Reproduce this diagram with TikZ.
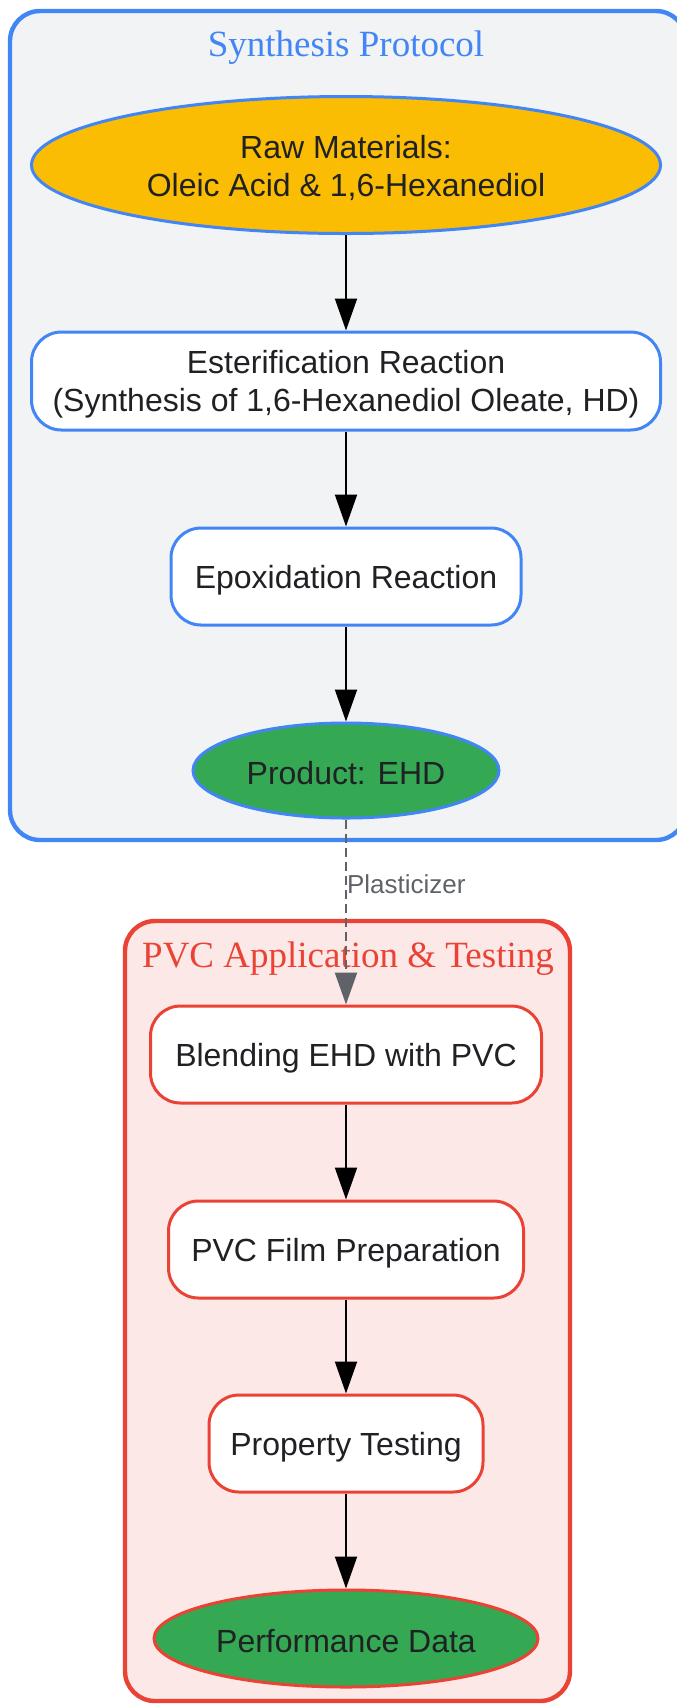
\documentclass[tikz,border=0pt]{standalone}
\usepackage{fontspec}
\setmainfont{Liberation Sans}
\newfontfamily\titlefont{Liberation Serif}
\usetikzlibrary{shapes.geometric,arrows.meta}
\definecolor{gblue}{HTML}{4285F4}
\definecolor{gred}{HTML}{EA4335}
\definecolor{ggreen}{HTML}{34A853}
\definecolor{gyellow}{HTML}{FBBC04}
\definecolor{ggrayfill}{HTML}{F1F3F4}
\definecolor{gpink}{HTML}{FCE8E6}
\definecolor{gtext}{HTML}{202124}
\definecolor{glabel}{HTML}{5F6368}
\tikzset{
  cluster/.style={line width=2.2pt, rounded corners=15pt},
  ctitle/.style={font=\titlefont\fontsize{18.5}{22}\selectfont, inner sep=0pt},
  procbox/.style={rectangle, rounded corners=15pt, fill=white, line width=1.5pt, inner sep=0pt},
  ovalnode/.style={ellipse, line width=1.5pt, inner sep=0pt},
  txt/.style={text=gtext, font=\fontsize{16}{19}\selectfont, align=center, inner sep=0pt, yshift=-1.7pt},
  flow/.style={line width=1pt, -{Triangle[length=16pt,width=11pt]}},
  dflow/.style={line width=1.1pt, draw=glabel, dash pattern=on 4.5pt off 2.5pt,
    -{Triangle[length=16pt,width=11pt]}, color=glabel},
}
\begin{document}
\begin{tikzpicture}[x=0.5pt,y=-0.5pt]
\useasboundingbox (0,0) rectangle (676,1705);
% clusters
\draw[cluster, draw=gblue, fill=ggrayfill] (10,11) rectangle (686,840);
\node[ctitle, text=gblue] (t1) at (346,47.5) {Synthesis Protocol};
\draw[cluster, draw=gred, fill=gpink] (125,921) rectangle (570,1701);
\node[ctitle, text=gred] (t2) at (348,959) {PVC Application \& Testing};
% node shapes
\node[ovalnode, draw=gblue, fill=gyellow, minimum width=314.5pt, minimum height=68.5pt] (raw) at (346,165) {};
\node[procbox, draw=gblue, minimum width=314.5pt, minimum height=49pt] (ester) at (346,381) {};
\node[procbox, draw=gblue, minimum width=175pt, minimum height=48.5pt] (epox) at (346,576.5) {};
\node[ovalnode, draw=gblue, fill=ggreen, minimum width=153pt, minimum height=47.5pt] (ehd) at (346,770.5) {};
\node[procbox, draw=gred, minimum width=195.5pt, minimum height=48.5pt] (blend) at (346,1054.5) {};
\node[procbox, draw=gred, minimum width=177.5pt, minimum height=48.5pt] (film) at (346,1249.5) {};
\node[procbox, draw=gred, minimum width=137pt, minimum height=48.5pt] (test) at (346,1443.5) {};
\node[ovalnode, draw=gred, fill=ggreen, minimum width=192pt, minimum height=48.5pt] (perf) at (346,1638.5) {};
% node texts
\node[txt] (rawtxt) at (raw.center) {Raw Materials:\\Oleic Acid \& 1,6-Hexanediol};
\node[txt] (estertxt) at (ester.center) {Esterification Reaction\\(Synthesis of 1,6-Hexanediol Oleate, HD)};
\node[txt] (epoxtxt) at (epox.center) {Epoxidation Reaction};
\node[txt, yshift=0.6pt] (ehdtxt) at (ehd.center) {Product: EHD};
\node[txt] (blendtxt) at (blend.center) {Blending EHD with PVC};
\node[txt] (filmtxt) at (film.center) {PVC Film Preparation};
\node[txt] (testtxt) at (test.center) {Property Testing};
\node[txt, yshift=0.6pt] (perftxt) at (perf.center) {Performance Data};
% edges
\draw[flow] (raw) -- (ester);
\draw[flow] (ester) -- (epox);
\draw[flow] (epox) -- (ehd);
\draw[dflow] (ehd) -- node[pos=0.35, right=-1pt, text=glabel, font=\fontsize{13}{15}\selectfont, inner sep=1pt] (plab) {Plasticizer} (blend);
\draw[flow] (blend) -- (film);
\draw[flow] (film) -- (test);
\draw[flow] (test) -- (perf);
\end{tikzpicture}
\end{document}
